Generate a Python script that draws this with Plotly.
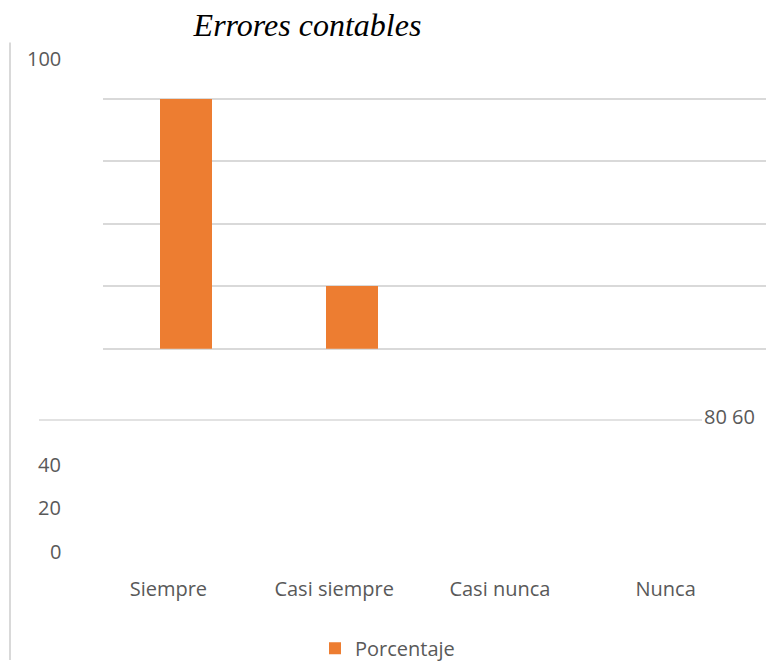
import plotly.graph_objects as go

categories = ["Siempre", "Casi siempre", "Casi nunca", "Nunca"]
porcentaje = [80, 20, 0, 0]
series_name = "Porcentaje"
title_text = "Errores contables"
left_ticks_low = ["40", "20", "0"]
left_tick_top = "100"
right_tick_text = "80 60"

W, H = 779, 668
GRID = "#d9d9d9"
TXT = "#595959"
FONT = "Open Sans"

def fx(px):
    return px / W

def fy(py):
    return (H - py) / H

fig = go.Figure()
fig.add_trace(go.Bar(
    x=categories, y=porcentaje, name=series_name,
    marker=dict(color="#ED7D31", line=dict(width=0)),
    width=0.313, showlegend=True,
))
# invisible trace for the displaced category label axis
fig.add_trace(go.Scatter(
    x=[0, 1, 2, 3], y=[None] * len(categories), xaxis="x2", yaxis="y",
    mode="markers", showlegend=False, hoverinfo="skip",
))

annotations = [
    dict(text=left_tick_top, x=fx(63), y=fy(59), xref="paper", yref="paper",
         xanchor="right", yanchor="middle", showarrow=False,
         font=dict(family=FONT, size=20, color=TXT)),
    dict(text=right_tick_text, x=fx(702), y=fy(421.5), xref="paper", yref="paper",
         xanchor="left", yanchor="middle", showarrow=False,
         font=dict(family=FONT, size=20, color=TXT)),
]
low_pos = [470, 514, 558]
for lab, py in zip(left_ticks_low, low_pos):
    annotations.append(dict(text=lab, x=fx(63), y=fy(py), xref="paper", yref="paper",
                            xanchor="right", yanchor="middle", showarrow=False,
                            font=dict(family=FONT, size=20, color=TXT)))

shift = 17.5 / 165.75
fig.update_layout(
    width=W, height=H,
    margin=dict(l=0, r=0, t=0, b=0),
    paper_bgcolor="white", plot_bgcolor="rgba(0,0,0,0)",
    title=dict(text="<i>" + title_text + "</i>", x=fx(307.5), xanchor="center",
               y=fy(25), yanchor="middle",
               font=dict(family="Liberation Serif", size=32, color="black")),
    xaxis=dict(domain=[fx(103), fx(766)], showticklabels=False, showgrid=False,
               zeroline=False, showline=False, ticks="", range=[-0.5, 3.5]),
    xaxis2=dict(overlaying="x", anchor="free",
                position=fy(582), side="bottom", range=[-0.5 + shift, 3.5 + shift],
                tickmode="array", tickvals=[0, 1, 2, 3], ticktext=categories,
                showgrid=False, zeroline=False, showline=False, ticks="",
                tickfont=dict(family=FONT, size=20, color=TXT)),
    yaxis=dict(domain=[fy(353), fy(98.4)], range=[0, 80.5], tickmode="array",
               tickvals=[0, 20, 40, 60, 80],
               showticklabels=False, showgrid=True, gridcolor=GRID, gridwidth=1.5,
               zeroline=True, zerolinecolor=GRID, zerolinewidth=1.5, showline=False),
    legend=dict(orientation="h", x=fx(315), xanchor="left", y=fy(656), yanchor="middle",
                font=dict(family=FONT, size=20, color=TXT), bgcolor="rgba(0,0,0,0)"),
    annotations=annotations,
    shapes=[
        dict(type="line", xref="paper", yref="paper", x0=fx(39), x1=fx(702),
             y0=fy(425), y1=fy(425), line=dict(color=GRID, width=1.5)),
        dict(type="line", xref="paper", yref="paper", x0=fx(10), x1=fx(10),
             y0=fy(43), y1=0, line=dict(color=GRID, width=2)),
    ],
    bargap=0,
)

fig.write_html("out.html", config={"displayModeBar": False},
               post_script="document.body.style.margin='0';document.body.style.overflow='hidden';")
